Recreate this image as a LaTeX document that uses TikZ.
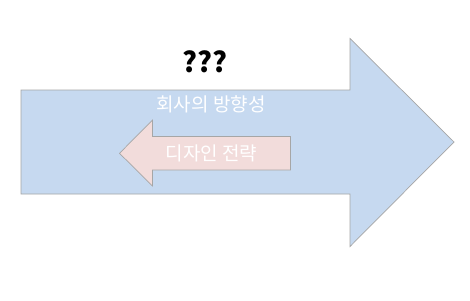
\documentclass[tikz,border=0pt]{standalone}
\usepackage{fontspec}
\newfontfamily\kr{Noto Sans CJK KR}
\definecolor{bigfill}{HTML}{C6D9F0}
\definecolor{smallfill}{HTML}{F2DCDB}
\definecolor{edge}{HTML}{A6A6A6}
\tikzset{
  arrowshape/.style={draw=edge, line width=0.7pt, line join=miter},
  lbl/.style={inner sep=0pt, font=\kr\fontsize{19}{21}\selectfont, text=white},
}
\begin{document}
\begin{tikzpicture}[x=1pt,y=-1pt]
\useasboundingbox (0,0) rectangle (470,300);
\fill[white] (0,0) rectangle (470,300);
% big arrow
\draw[arrowshape, fill=bigfill] (21,90) -- (350,90) -- (350,38.5) -- (454,142) -- (350,246.5) -- (350,194) -- (21,194) -- cycle;
% small arrow
\draw[arrowshape, fill=smallfill] (290.5,136.5) -- (152.5,136.5) -- (152.5,120) -- (119.5,153.3) -- (152.5,186) -- (152.5,170) -- (290.5,170) -- cycle;
\node (q) at (205,62) {\kr\bfseries\fontsize{28}{30}\selectfont ???};
\node[lbl] (company) at (211,104) {회사의 방향성};
\node[lbl] (design) at (211.5,153.5) {디자인 전략};
\end{tikzpicture}
\end{document}
